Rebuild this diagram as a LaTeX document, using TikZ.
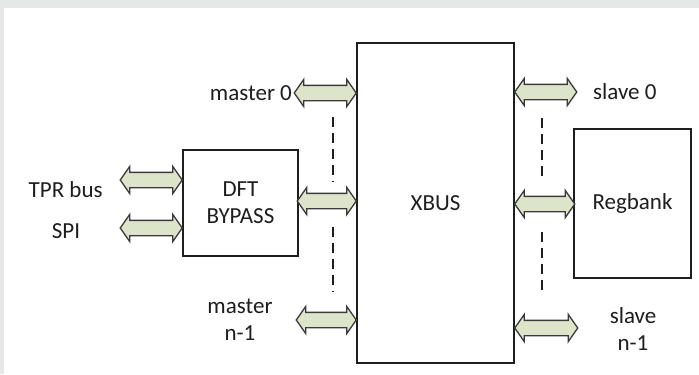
\documentclass[tikz,border=0pt]{standalone}
\usepackage{fontspec}
\setmainfont{Carlito}
\usetikzlibrary{positioning,shapes.arrows}

\definecolor{busfill}{RGB}{222,228,201}
\definecolor{busline}{RGB}{58,58,58}
\definecolor{framegray}{RGB}{229,232,230}
\definecolor{ink}{RGB}{30,30,30}

\begin{document}
\begin{tikzpicture}[
    x=0.5pt, y=-0.5pt,
    font=\fontsize{11.5}{13.5}\selectfont,
    block/.style={draw=ink, line width=0.75pt, inner sep=0pt, align=center, text=ink},
    bus/.style={shape=double arrow, draw=busline, fill=busfill, line width=0.65pt,
        double arrow head extend=3pt, double arrow tip angle=110,
        inner xsep=0pt, inner ysep=3.5pt, outer sep=0pt},
    lbl/.style={inner sep=0pt, align=center, text=ink},
    dots/.style={draw=ink, line width=1pt, dash pattern=on 5pt off 3pt}
]
    \useasboundingbox (0,0) rectangle (699,374);
    \fill[framegray] (0,0) rectangle (699,374);
    \fill[white] (4,8) rectangle (699,374);

    % blocks
    \node[block, minimum width=78.5pt, minimum height=160pt] (xbus) at (435.5,203) {XBUS};
    \node[block, minimum width=57.5pt, minimum height=53pt] (dft) at (240.5,203) {DFT\\BYPASS};
    \node[block, minimum width=58.5pt, minimum height=74.5pt] (regbank) at (632.5,203.5) {Regbank};

    % master side
    \node[bus, minimum height=31pt, anchor=east] (mst0) at (xbus.west |- 0,93) {};
    \node[bus, minimum height=29.5pt, anchor=east] (mstmid) at (xbus.west |- 0,201) {};
    \node[bus, minimum height=30pt, anchor=east] (mstn) at (xbus.west |- 0,320) {};
    \node[bus, minimum height=31pt, anchor=east] (tpr) at (dft.west |- 0,180) {};
    \node[bus, minimum height=31pt, anchor=east] (spi) at (dft.west |- 0,228) {};

    % slave side
    \node[bus, minimum height=31pt, anchor=west] (slv0) at (xbus.east |- 0,92) {};
    \node[bus, minimum height=30pt, anchor=west] (slvmid) at (xbus.east |- 0,204) {};
    \node[bus, minimum height=31.5pt, anchor=west] (slvn) at (xbus.east |- 0,328) {};

    % labels
    \node[lbl, left=1pt of mst0] (lmst0) {master 0};
    \node[lbl] (lmstn) at (240,320) {master\\n-1};
    \node[lbl, anchor=east] (ltpr) at (103,190) {TPR bus};
    \node[lbl] (lspi) at (66,231) {SPI};
    \node[lbl, right=8pt of slv0] (lslv0) {slave 0};
    \node[lbl] (lslvn) at (633,329) {slave\\n-1};

    % continuation dashes
    \draw[dots] (333,117) -- (333,182);
    \draw[dots] (333,227) -- (333,292);
    \draw[dots] (542,118) -- (542,180);
    \draw[dots] (542,232) -- (542,295);
\end{tikzpicture}
\end{document}
